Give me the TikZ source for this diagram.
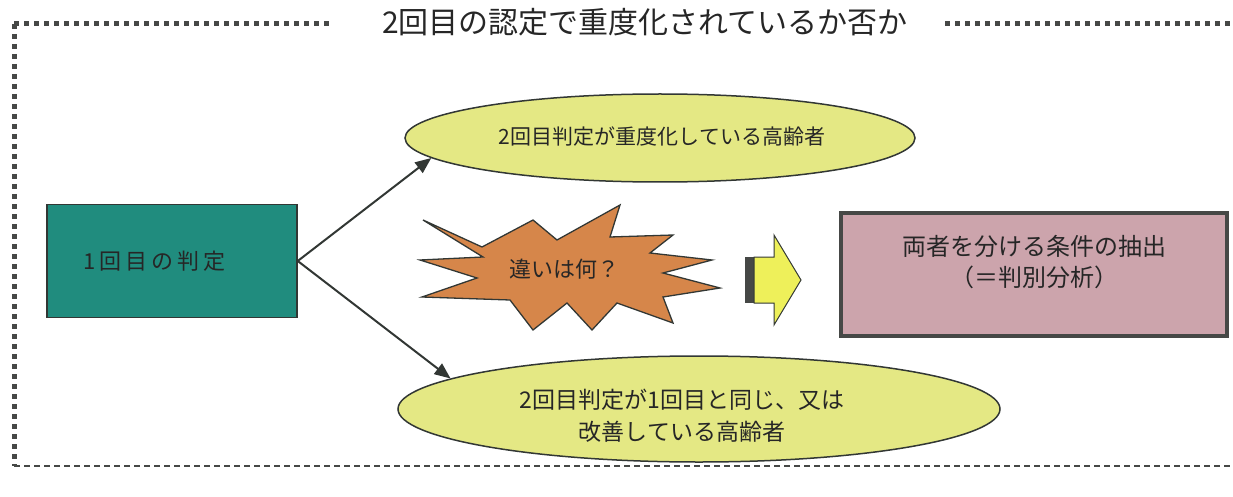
\documentclass[tikz,border=0pt]{standalone}
\usepackage{fontspec}
\newfontfamily\jp{Noto Sans CJK JP}
\usetikzlibrary{arrows.meta,shapes.geometric}
\definecolor{teal1}{RGB}{32,140,126}
\definecolor{yel1}{RGB}{228,232,132}
\definecolor{orng}{RGB}{214,134,74}
\definecolor{pink1}{RGB}{204,164,172}
\definecolor{yarrow}{RGB}{238,240,90}
\definecolor{edge}{RGB}{50,55,52}
\definecolor{dotc}{RGB}{70,72,70}
\begin{document}
\begin{tikzpicture}[x=1pt,y=-1pt,
  txt/.style 2 args={font=\jp\fontsize{#1}{#2}\selectfont, text=black!85, inner sep=0pt},
  frame/.style={draw=dotc, line width=5pt, dash pattern=on 5pt off 5pt},
  conn/.style={draw=edge, line width=2pt, -{Triangle[length=16pt,width=13pt]}},
  oval/.style={ellipse, draw=edge, line width=1.5pt, fill=yel1, inner sep=0pt}
]
\useasboundingbox (0,0) rectangle (1233,497);
% frame
\draw[frame] (14,24) -- (333,24);
\draw[frame] (945,24) -- (1233,24);
\draw[frame] (14,24) -- (14,466);
\draw[draw=dotc, line width=2.5pt, dash pattern=on 6pt off 4pt] (14,466) -- (1233,466);
\node[txt={30}{36}] (title) at (645,22) {2回目の認定で重度化されているか否か};
% first box
\node[draw=edge, line width=1.5pt, fill=teal1, minimum width=250, minimum height=113] (b1) at (172,261) {};
\node[txt={22}{26}, anchor=west] (b1t) at ([xshift=37pt]b1.west) {\addfontfeature{LetterSpace=18}1回目の判定};
% ellipses
\node[oval, minimum width=510, minimum height=88] (e1) at (660,138) {};
\node[txt={21}{26}] (e1t) at (662,137) {2回目判定が重度化している高齢者};
\node[oval, minimum width=602, minimum height=106] (e2) at (699,409) {};
\node[txt={23}{32}, align=center] (e2t) at (682,416) {2回目判定が1回目と同じ、又は\\改善している高齢者};
% arrows
\draw[conn] (b1.east) -- (e1.185);
\draw[conn] (b1.east) -- (e2.173);
% star
\draw[draw=edge, line width=1.3pt, fill=orng, line join=miter]
  (423,220) -- (482,247) -- (533,220) -- (557,240) -- (620,205) -- (610,237)
  -- (673,235) -- (650,253) -- (712,260) -- (663,273) -- (720,288) -- (663,297)
  -- (673,323) -- (617,303) -- (592,330) -- (567,303) -- (533,330) -- (510,300)
  -- (422,297) -- (477,278) -- (420,260) -- (483,257) -- cycle;
\node[txt={22}{26}] (st) at (564,269) {違いは何？};
% yellow block arrow
\fill[dotc] (745,257) rectangle (754,303);
\draw[draw=edge, line width=1pt, fill=yarrow, line join=miter]
  (754,257) -- (774,257) -- (774,235) -- (801,280) -- (774,325) -- (774,303) -- (754,303) -- cycle;
% pink box
\node[draw=dotc, line width=4pt, fill=pink1, minimum width=386, minimum height=123] (p1) at (1034,274.5) {};
\node[txt={24}{31}, align=center] (p1t) at ([yshift=12pt]p1.center) {両者を分ける条件の抽出\\（＝判別分析）};
\end{tikzpicture}
\end{document}
